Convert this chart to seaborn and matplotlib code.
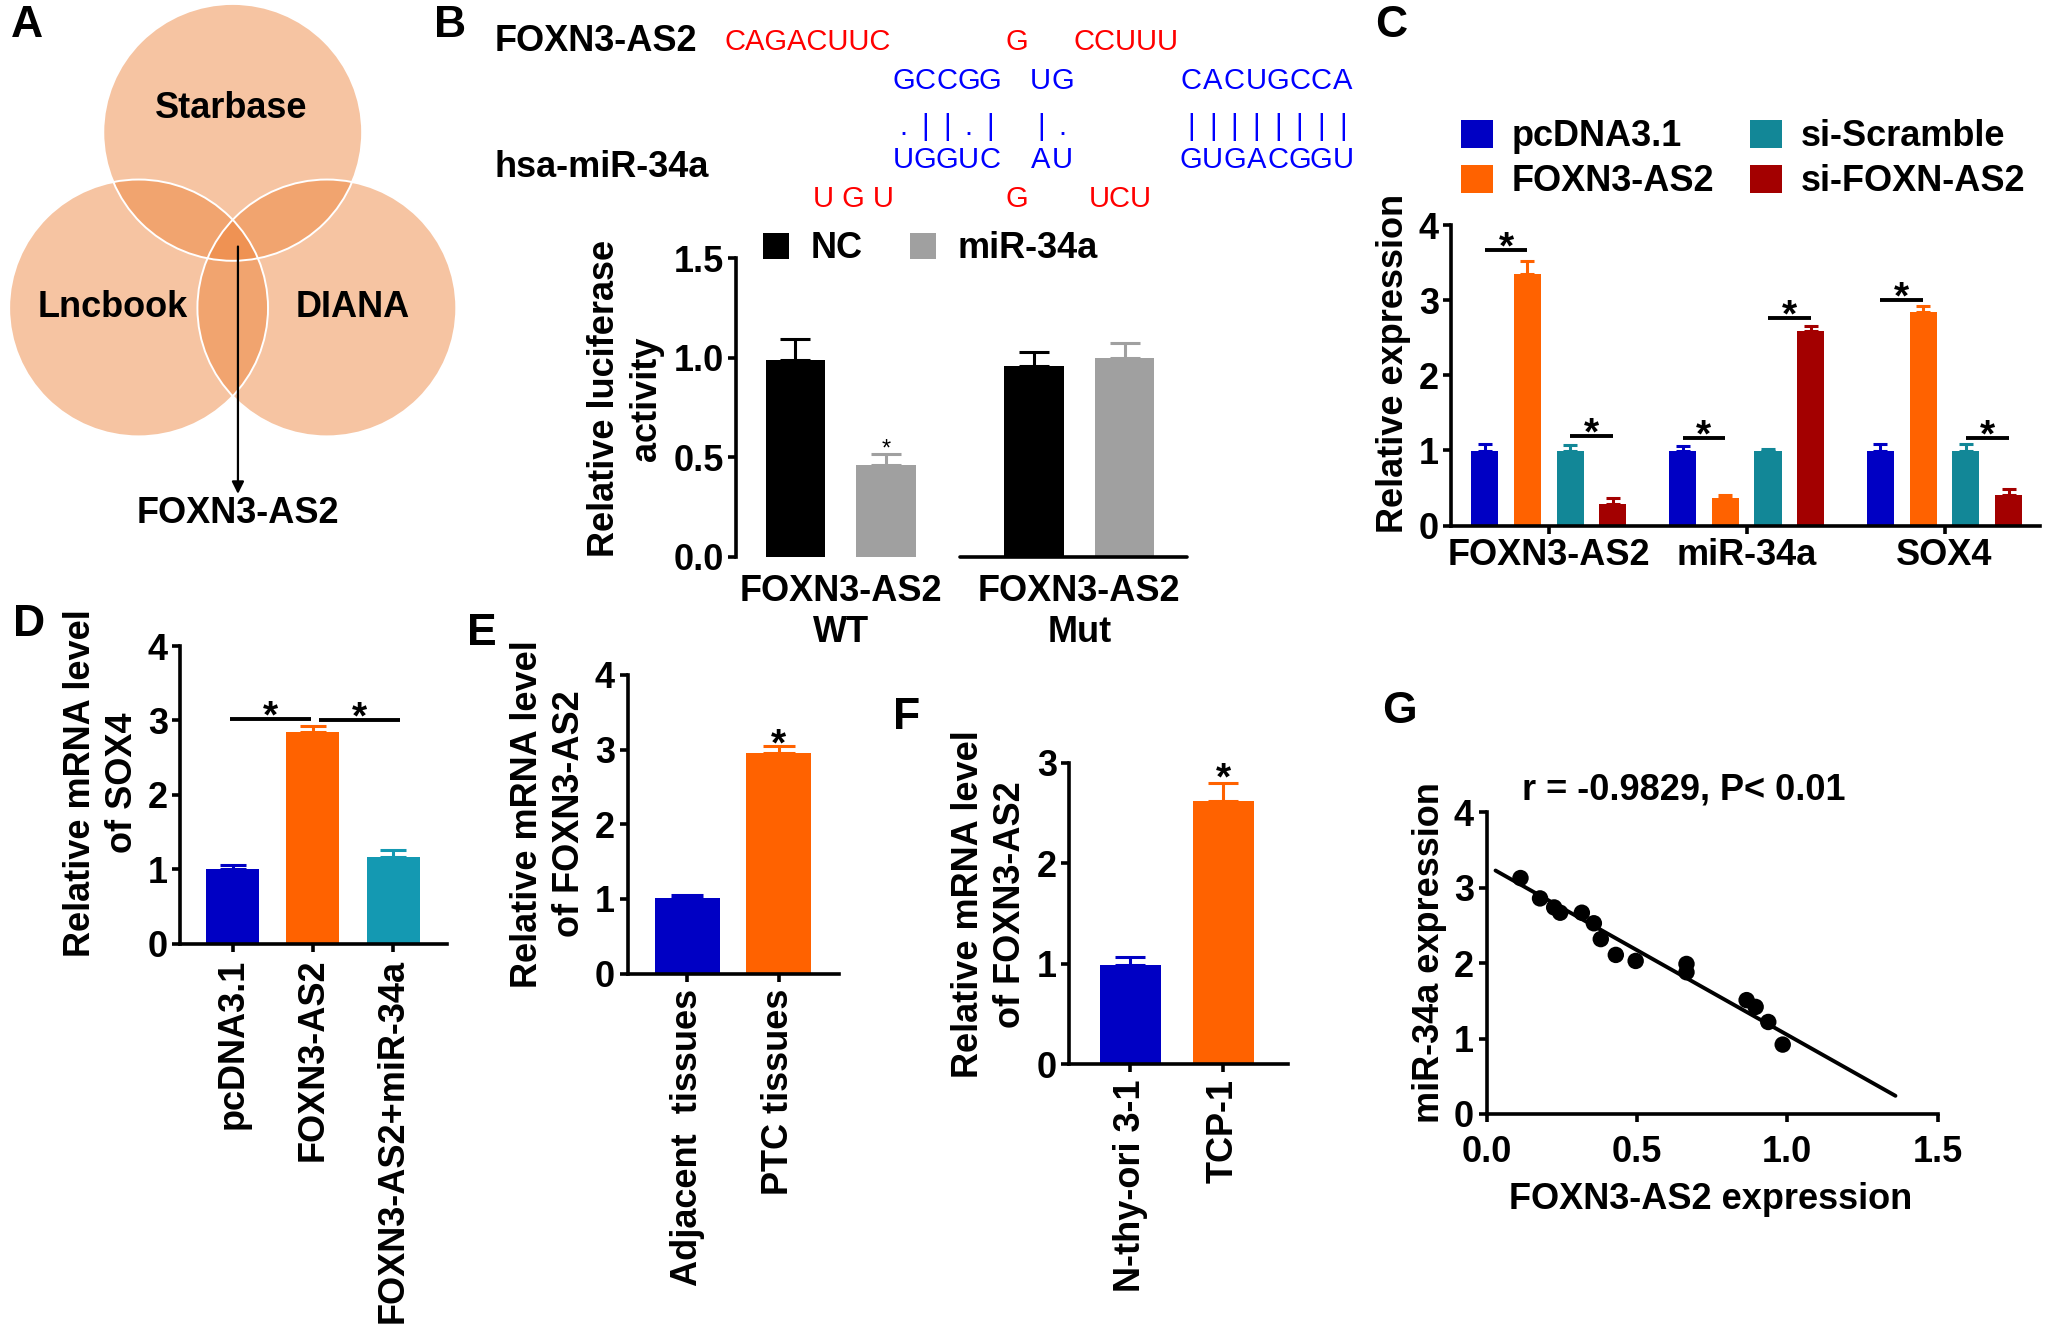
import numpy as np
import pandas as pd
import matplotlib
matplotlib.use("Agg")
import matplotlib.pyplot as plt
from matplotlib.patches import Ellipse
from matplotlib import font_manager
import seaborn as sns

# ---- values ----
venn_sets = ["Starbase", "Lncbook", "DIANA"]
venn_hit = "FOXN3-AS2"

lnc_name = "FOXN3-AS2"
mir_name = "hsa-miR-34a"
lnc_loop = ["CAGACUUC", "G", "CCUUU"]
lnc_stem = ["GCCGG", "UG", "CACUGCCA"]
pairing = [".||.|", "|.", "||||||||"]
mir_stem = ["UGGUC", "AU", "GUGACGGU"]
mir_loop = ["U G U", "G", "UCU"]

luc_constructs = ["FOXN3-AS2\nWT", "FOXN3-AS2\nMut"]
luc_groups = ["NC", "miR-34a"]
luc_nc = [0.99, 0.96]
luc_nc_err = [0.105, 0.067]
luc_mir = [0.46, 1.00]
luc_mir_err = [0.055, 0.075]
luc_yticks = [0.0, 0.5, 1.0, 1.5]

expr_targets = ["FOXN3-AS2", "miR-34a", "SOX4"]
expr_groups = ["pcDNA3.1", "FOXN3-AS2", "si-Scramble", "si-FOXN-AS2"]
expr_pcdna = [0.99, 0.99, 0.99]
expr_pcdna_err = [0.09, 0.07, 0.09]
expr_foxn = [3.35, 0.37, 2.85]
expr_foxn_err = [0.18, 0.04, 0.07]
expr_siscr = [0.99, 0.99, 0.99]
expr_siscr_err = [0.08, 0.03, 0.09]
expr_sifoxn = [0.29, 2.59, 0.41]
expr_sifoxn_err = [0.08, 0.07, 0.08]
# (target, group a, group b, bar height)
expr_sig = [(0, 0, 1, 3.67), (0, 2, 3, 1.19), (1, 0, 1, 1.16),
            (1, 2, 3, 2.77), (2, 0, 1, 3.00), (2, 2, 3, 1.17)]

sox4_groups = ["pcDNA3.1", "FOXN3-AS2", "FOXN3-AS2+miR-34a"]
sox4_level = [1.00, 2.84, 1.16]
sox4_err = [0.06, 0.08, 0.10]
sox4_sig = [(0, 1, 3.02), (1, 2, 3.00)]

tissue_groups = ["Adjacent  tissues", "PTC tissues"]
tissue_level = [1.01, 2.96]
tissue_err = [0.04, 0.09]

cell_groups = ["N-thy-ori 3-1", "TCP-1"]
cell_level = [0.99, 2.62]
cell_err = [0.08, 0.18]

corr_foxn = [0.113, 0.178, 0.225, 0.245, 0.317, 0.357, 0.380, 0.430,
             0.496, 0.665, 0.665, 0.865, 0.895, 0.937, 0.985]
corr_mir = [3.13, 2.86, 2.74, 2.67, 2.67, 2.53, 2.32, 2.11,
            2.03, 1.99, 1.88, 1.51, 1.42, 1.22, 0.92]
fit_foxn = [0.03, 1.36]
fit_mir = [3.23, 0.24]
corr_text = "r = -0.9829, P< 0.01"
corr_xticks = [0.0, 0.5, 1.0, 1.5]

# colours
BLUE = "#0000C4"
ORANGE = "#FF6200"
TEAL = "#128797"
TEAL_LIGHT = "#1499B2"
DARKRED = "#A30000"
GRAY = "#A0A0A0"
VENN = "#ED7D31"

sns.set_style("ticks")
plt.rcParams["font.family"] = ["Liberation Sans", "DejaVu Sans"]
plt.rcParams.update({
    "font.size": 26, "font.weight": "bold", "axes.labelweight": "bold",
    "axes.linewidth": 2.6, "axes.edgecolor": "black", "axes.labelcolor": "black",
    "xtick.color": "black", "ytick.color": "black", "text.color": "black",
    "xtick.major.width": 2.6, "ytick.major.width": 2.6,
    "xtick.major.size": 6, "ytick.major.size": 6,
    "xtick.major.pad": 3, "ytick.major.pad": 3,
    "patch.force_edgecolor": False,
})

installed = {f.name for f in font_manager.fontManager.ttflist}
if "Liberation Sans Narrow" in installed:
    SEQ_FONT, SEQ_SIZE = ["Liberation Sans Narrow", "DejaVu Sans"], 25
else:
    SEQ_FONT, SEQ_SIZE = ["Liberation Sans", "DejaVu Sans"], 21

# layout grid of the reference picture
REF_W, REF_H = 1568.0, 1021.0


def frame(left, top, right, bottom):
    return [left / REF_W, 1 - bottom / REF_H, (right - left) / REF_W, (bottom - top) / REF_H]


def at(x, y):
    return x / REF_W, 1 - y / REF_H


fig = plt.figure(figsize=(20.5, 13.38), dpi=100)


def add_errorbars(ax, bar_groups, errs):
    x0 = ax.transData.transform((0, 0))[0]
    for bars, err_list in zip(bar_groups, errs):
        for bar, e in zip(bars, err_list):
            w_pt = (ax.transData.transform((bar.get_width(), 0))[0] - x0) * 72 / fig.dpi
            xc = bar.get_x() + bar.get_width() / 2
            ax.errorbar(xc, bar.get_height(), yerr=[[0], [e]], fmt="none",
                        ecolor=bar.get_facecolor(), elinewidth=2.2,
                        capsize=w_pt * 0.25, capthick=2.2, clip_on=False)


def star(ax, x, y, size=28, drop=6, weight="bold"):
    ax.annotate("*", xy=(x, y), xytext=(0, -drop), textcoords="offset points",
                ha="center", va="baseline", fontsize=size, fontweight=weight,
                annotation_clip=False)


def center(bar):
    return bar.get_x() + bar.get_width() / 2


def finish(ax, ylabel, label_xy):
    sns.despine(ax=ax)
    ax.set_xlabel("")
    ax.set_ylabel(ylabel, linespacing=1.25)
    ax.yaxis.set_label_coords(*label_xy)


# ---- panel letters ----
for letter, (x, y) in zip("ABCDEFG", [(8, 4), (332, 4), (1052, 4), (10, 461),
                                      (357, 468), (683, 532), (1057, 527)]):
    fig.text(*at(x, y), letter, fontsize=32, fontweight="bold", ha="left", va="top")

# ---- A: Venn ----
axA = fig.add_axes(frame(0, 0, 360, 410))
axA.set_xlim(0, 360)
axA.set_ylim(410, 0)
axA.axis("off")
venn_centers = [(178, 101), (106, 235), (250, 235)]
venn_label_pos = [(177, 83), (86, 235), (270, 235)]
for cx, cy in venn_centers:
    axA.add_patch(Ellipse((cx, cy), 198, 196, facecolor=VENN, alpha=0.45, edgecolor="none"))
for cx, cy in venn_centers:
    axA.add_patch(Ellipse((cx, cy), 198, 196, facecolor="none", edgecolor="white", lw=1.4))
for name, (tx, ty) in zip(venn_sets, venn_label_pos):
    axA.text(tx, ty, name, ha="center", va="center")
axA.annotate("", xy=(182, 379), xytext=(182, 186),
             arrowprops=dict(arrowstyle="-|>", color="black", lw=1.6, mutation_scale=18))
axA.text(182, 392, venn_hit, ha="center", va="center")

# ---- B: pairing sketch ----
fig.text(*at(378, 32), lnc_name, ha="left", va="center")
fig.text(*at(378, 128), mir_name, ha="left", va="center")
seq_kw = dict(fontfamily=SEQ_FONT, fontsize=SEQ_SIZE, fontweight="normal")
for s, x in zip(lnc_loop, [554, 769, 821]):
    fig.text(*at(x, 32), s, color="red", ha="left", va="center", **seq_kw)
for s, x in zip(mir_loop, [622, 769, 833]):
    fig.text(*at(x, 152), s, color="red", ha="left", va="center", **seq_kw)
col_step = 16.6
stem_starts = [691, 796, 911]
for row, y, va in [(lnc_stem, 62, "center"), (pairing, 103, "baseline"), (mir_stem, 122, "center")]:
    for chunk, x0 in zip(row, stem_starts):
        for i, ch in enumerate(chunk):
            fig.text(*at(x0 + i * col_step, y), ch, color="blue", ha="center", va=va, **seq_kw)

# ---- B: luciferase bars ----
axB = fig.add_axes(frame(563, 197, 908, 425))
luc_df = pd.DataFrame({
    "construct": luc_constructs * 2,
    "group": [g for g in luc_groups for _ in luc_constructs],
    "activity": luc_nc + luc_mir,
})
sns.barplot(data=luc_df, x="construct", y="activity", hue="group", order=luc_constructs,
            hue_order=luc_groups, palette=["black", GRAY], width=0.757, gap=0.34,
            errorbar=None, saturation=1, linewidth=0, ax=axB)
axB.set_xlim(-0.438, 1.451)
axB.set_ylim(0, 1.5)
barsB = list(axB.containers)
add_errorbars(axB, barsB, [luc_nc_err, luc_mir_err])
wt_mir = barsB[1][0]
star(axB, center(wt_mir), wt_mir.get_height() + luc_mir_err[0], size=17, drop=1, weight="normal")
axB.set_yticks(luc_yticks)
axB.set_yticklabels([f"{t:.1f}" for t in luc_yticks])
finish(axB, "Relative luciferase\nactivity", (-0.16, 0.53))
axB.spines["bottom"].set_visible(False)
axB.axhline(0, xmin=0.4955, xmax=1, color="black", lw=2.6, clip_on=False)
axB.tick_params(axis="x", length=0, pad=12)
for lab in axB.get_xticklabels():
    lab.set_linespacing(1.25)
sns.move_legend(axB, "center left", bbox_to_anchor=(0.06, 1.031), ncol=2, frameon=False,
                title=None, handlelength=0.72, handleheight=0.72, handletextpad=0.6,
                columnspacing=1.3, borderaxespad=0, borderpad=0)

# ---- C: expression bars ----
axC = fig.add_axes(frame(1110, 172, 1560, 401))
expr_df = pd.DataFrame({
    "target": expr_targets * 4,
    "group": np.repeat(expr_groups, len(expr_targets)),
    "expr": expr_pcdna + expr_foxn + expr_siscr + expr_sifoxn,
})
sns.barplot(data=expr_df, x="target", y="expr", hue="group", order=expr_targets,
            hue_order=expr_groups, palette=[BLUE, ORANGE, TEAL, DARKRED], width=0.864,
            gap=0.366, errorbar=None, saturation=1, linewidth=0, ax=axC)
axC.set_xlim(-0.493, 2.48)
axC.set_ylim(0, 4)
barsC = list(axC.containers)
add_errorbars(axC, barsC, [expr_pcdna_err, expr_foxn_err, expr_siscr_err, expr_sifoxn_err])
for t, a, b, h in expr_sig:
    xa, xb = center(barsC[a][t]), center(barsC[b][t])
    axC.plot([xa, xb], [h, h], color="black", lw=2.8, solid_capstyle="butt")
    star(axC, (xa + xb) / 2, h)
axC.set_yticks(range(5))
finish(axC, "Relative expression", (-0.069, 0.54))
sns.move_legend(axC, "center left", bbox_to_anchor=(0.016, 1.22), ncol=2, frameon=False,
                title=None, handlelength=0.9, handleheight=0.8, handletextpad=0.5,
                columnspacing=1.0, labelspacing=0.28, borderaxespad=0, borderpad=0)


# ---- D, E, F: single-series bars ----
def single_bars(box, groups, values, errs, colors, width, xlim, ytop, ylabel, label_xy):
    ax = fig.add_axes(frame(*box))
    sns.barplot(x=groups, y=values, hue=groups, palette=colors, legend=False, width=width,
                errorbar=None, saturation=1, linewidth=0, ax=ax)
    ax.set_xlim(*xlim)
    ax.set_ylim(0, ytop)
    bars = list(ax.containers)
    add_errorbars(ax, bars, [[e] for e in errs])
    ax.set_yticks(range(ytop + 1))
    ax.tick_params(axis="x", labelrotation=90, pad=5)
    finish(ax, ylabel, label_xy)
    return ax, [b[0] for b in bars]


axD, barsD = single_bars((138, 493, 342, 720), sox4_groups, sox4_level, sox4_err,
                         [BLUE, ORANGE, TEAL_LIGHT], 0.66, (-0.653, 2.674), 4,
                         "Relative mRNA level\nof SOX4", (-0.152, 0.54))
for a, b, h in sox4_sig:
    xa, xb = center(barsD[a]) - 0.03, center(barsD[b]) - 0.02
    if a > 0:
        xa, xb = center(barsD[a]) + 0.08, center(barsD[b]) + 0.09
    axD.plot([xa, xb], [h, h], color="black", lw=2.8, solid_capstyle="butt")
    star(axD, (xa + xb) / 2, h)

axE, barsE = single_bars((480, 515, 642, 743), tissue_groups, tissue_level, tissue_err,
                         [BLUE, ORANGE], 0.71, (-0.655, 1.667), 4,
                         "Relative mRNA level\nof FOXN3-AS2", (-0.191, 0.535))
star(axE, center(barsE[1]), tissue_level[1] + tissue_err[1], drop=7)

axF, barsF = single_bars((818, 582, 985, 812), cell_groups, cell_level, cell_err,
                         [BLUE, ORANGE], 0.66, (-0.657, 1.695), 3,
                         "Relative mRNA level\nof FOXN3-AS2", (-0.192, 0.53))
star(axF, center(barsF[1]), cell_level[1] + cell_err[1], drop=5)

# ---- G: correlation ----
axG = fig.add_axes(frame(1137, 620, 1482, 850))
sns.scatterplot(x=corr_foxn, y=corr_mir, color="black", s=140, edgecolor="none", ax=axG, zorder=3)
sns.lineplot(x=fit_foxn, y=fit_mir, color="black", linewidth=2.8, ax=axG)
axG.set_xlim(0, 1.5)
axG.set_ylim(0, 4)
axG.set_xticks(corr_xticks)
axG.set_xticklabels([f"{t:.1f}" for t in corr_xticks])
axG.set_yticks(range(5))
axG.tick_params(axis="x", pad=9)
finish(axG, "miR-34a expression", (-0.087, 0.535))
axG.set_xlabel("FOXN3-AS2 expression")
axG.xaxis.set_label_coords(0.496, -0.226)
axG.text(0.438, 1.074, corr_text, transform=axG.transAxes, ha="center", va="center")

fig.savefig("out.png", dpi=100)
